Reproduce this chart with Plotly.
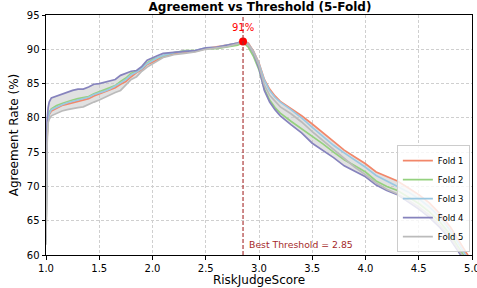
import numpy as np
import plotly.graph_objects as go

thresholds = [1.00, 1.01, 1.02, 1.03, 1.05, 1.10, 1.15, 1.20, 1.25, 1.30, 1.35, 1.40, 1.45, 1.50,
              1.55, 1.60, 1.65, 1.70, 1.75, 1.80, 1.85, 1.90, 1.95, 2.00, 2.05, 2.10, 2.15, 2.20,
              2.30, 2.40, 2.50, 2.60, 2.70, 2.80, 2.85, 2.90, 2.95, 3.00, 3.05, 3.10, 3.15, 3.20,
              3.30, 3.40, 3.50, 3.60, 3.70, 3.80, 3.90, 4.00, 4.10, 4.20, 4.30, 4.40, 4.50, 4.60,
              4.70, 4.80, 4.90, 5.00]

fold1 = [62.0, 77.0, 79.8, 80.5, 81.0, 81.4, 81.8, 82.0, 82.2, 82.3, 82.5, 82.8, 83.2, 83.5,
         83.8, 84.1, 84.4, 84.9, 85.3, 86.0, 86.6, 87.0, 87.8, 88.1, 88.5, 88.9, 89.1, 89.4,
         89.6, 89.7, 90.1, 90.3, 90.6, 90.9, 91.3, 90.9, 89.7, 88.0, 85.6, 84.2, 83.2, 82.4,
         81.4, 80.3, 79.1, 77.8, 76.5, 75.3, 74.3, 73.3, 72.1, 71.4, 70.8, 69.8, 68.8, 67.6,
         66.0, 64.0, 61.5, 59.0]
fold2 = [62.0, 77.5, 80.2, 80.8, 81.3, 81.8, 82.1, 82.4, 82.6, 82.8, 82.9, 83.1, 83.5, 83.8,
         84.0, 84.3, 84.7, 85.3, 85.8, 86.5, 86.8, 87.3, 88.0, 88.5, 88.8, 89.1, 89.3, 89.5,
         89.8, 89.8, 90.1, 90.1, 90.3, 90.6, 91.0, 90.3, 88.9, 87.0, 84.2, 82.6, 81.5, 80.7,
         79.5, 78.4, 77.4, 76.2, 75.0, 73.9, 73.0, 72.1, 70.8, 70.0, 69.4, 68.5, 67.5, 66.3,
         64.8, 62.9, 60.6, 58.0]
fold3 = [62.0, 77.5, 80.0, 80.6, 81.2, 81.6, 81.9, 82.2, 82.4, 82.6, 82.8, 83.0, 83.4, 83.6,
         83.9, 84.2, 84.6, 85.1, 85.6, 86.3, 86.7, 87.2, 87.9, 88.4, 88.8, 89.1, 89.3, 89.5,
         89.7, 89.8, 90.2, 90.3, 90.6, 90.9, 91.2, 90.8, 89.6, 87.9, 85.5, 84.0, 83.0, 82.3,
         81.2, 80.0, 78.6, 77.3, 76.0, 74.9, 73.9, 72.8, 71.6, 70.8, 70.1, 69.2, 68.2, 67.0,
         65.5, 63.5, 61.0, 58.5]
fold4 = [62.5, 79.5, 81.5, 82.3, 82.9, 83.2, 83.5, 83.7, 84.0, 84.2, 84.2, 84.5, 84.9, 85.0,
         85.2, 85.5, 85.6, 86.2, 86.5, 86.8, 86.9, 87.5, 88.4, 88.8, 89.1, 89.4, 89.5, 89.6,
         89.7, 89.8, 90.2, 90.3, 90.6, 90.9, 91.2, 90.7, 89.4, 87.2, 84.0, 82.3, 81.2, 80.3,
         79.0, 77.8, 76.3, 75.3, 74.2, 73.0, 72.2, 71.4, 70.2, 69.4, 68.8, 67.8, 66.7, 65.5,
         64.0, 62.2, 60.0, 57.5]
fold5 = [61.5, 76.0, 79.3, 79.8, 80.3, 80.7, 81.0, 81.2, 81.4, 81.5, 81.6, 82.0, 82.3, 82.6,
         83.0, 83.4, 83.7, 84.0, 84.8, 85.6, 86.0, 86.8, 87.4, 87.9, 88.4, 88.8, 89.0, 89.2,
         89.4, 89.6, 90.0, 90.2, 90.4, 90.8, 91.1, 90.7, 89.5, 87.6, 84.8, 83.3, 82.4, 81.6,
         80.6, 79.4, 78.0, 76.7, 75.3, 74.0, 72.8, 71.7, 70.5, 69.6, 68.9, 68.0, 67.0, 65.8,
         64.3, 62.5, 60.2, 57.8]

fold_names = ["Fold 1", "Fold 2", "Fold 3", "Fold 4", "Fold 5"]
fold_colors = ["#F2876A", "#95D17F", "#9AC8E2", "#8683BD", "#BBBBBB"]
best_threshold = 2.85
best_rate = 91.15
best_label = "91%"

folds = [fold1, fold2, fold3, fold4, fold5]
arr = np.array(folds)
lo = arr.min(axis=0)
hi = arr.max(axis=0)

fig = go.Figure()
fig.add_trace(go.Scatter(x=thresholds, y=lo, mode="lines", line=dict(width=0),
                         showlegend=False, hoverinfo="skip"))
fig.add_trace(go.Scatter(x=thresholds, y=hi, mode="lines", line=dict(width=0),
                         fill="tonexty", fillcolor="rgba(195,195,195,0.5)",
                         showlegend=False, hoverinfo="skip"))
for name, col, vals in zip(fold_names, fold_colors, folds):
    fig.add_trace(go.Scatter(x=thresholds, y=vals, mode="lines", name=name,
                             line=dict(color=col, width=1.7)))

fig.add_shape(type="line", x0=best_threshold, x1=best_threshold, y0=0, y1=1, yref="paper",
              line=dict(color="#A52A2A", width=1.1, dash="4px,2px"))
fig.add_trace(go.Scatter(x=[best_threshold], y=[best_rate], mode="markers",
                         marker=dict(color="#FF0000", size=8), showlegend=False))
fig.add_annotation(x=best_threshold, y=best_rate, text=best_label, showarrow=False,
                   yshift=14, font=dict(color="#FF0000", size=10, family="DejaVu Sans"))
fig.add_annotation(x=best_threshold, y=61.5, text=f"Best Threshold = {best_threshold:.2f}",
                   showarrow=False, xanchor="left", xshift=4,
                   font=dict(color="#A52A2A", size=9.3, family="DejaVu Sans"))

axis_common = dict(showline=True, linecolor="black", linewidth=1, mirror=True,
                   ticks="outside", ticklen=3.5, tickcolor="black", automargin=False,
                   ticklabeloverflow="allow",
                   showgrid=True, gridcolor="#cfcfcf", griddash="3px,2px", gridwidth=0.8,
                   zeroline=False, tickfont=dict(size=10, color="black"))

fig.update_layout(
    width=477, height=288,
    margin=dict(l=46, r=5, t=15, b=33, autoexpand=False),
    paper_bgcolor="white", plot_bgcolor="white",
    font=dict(family="DejaVu Sans", color="black"),
    title=dict(text="<b>Agreement vs Threshold (5-Fold)</b>", x=0.545, xanchor="center",
               y=0.975, yanchor="middle", font=dict(size=12), automargin=False),
    xaxis=dict(range=[1, 5], dtick=0.5, tickformat=".1f",
               title=dict(text="RiskJudgeScore", font=dict(size=12), standoff=1),
               **axis_common),
    yaxis=dict(range=[60, 95], dtick=5,
               title=dict(text="Agreement Rate (%)", font=dict(size=12), standoff=5),
               **axis_common),
    legend=dict(x=0.995, y=0.012, xanchor="right", yanchor="bottom", traceorder="normal",
                bgcolor="rgba(255,255,255,0.8)", bordercolor="#cccccc", borderwidth=1,
                font=dict(size=8.5), itemwidth=30, tracegroupgap=0),
    showlegend=True,
)

fig.write_html("out.html", config={"displayModeBar": False},
               post_script="document.body.style.margin='0';")
